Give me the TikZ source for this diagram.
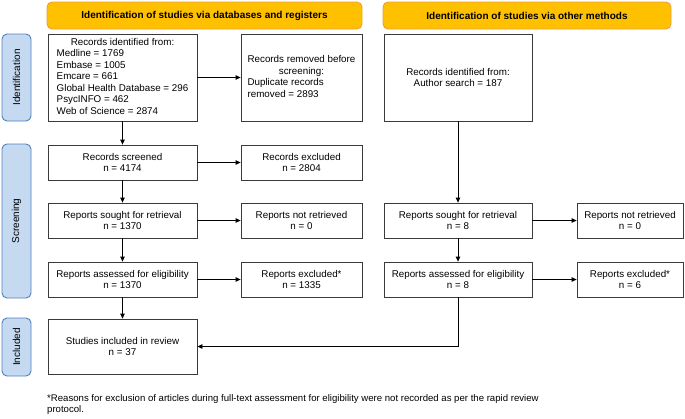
\documentclass[tikz,border=0pt]{standalone}
\usepackage{fontspec}
\setmainfont{Liberation Sans}
\usetikzlibrary{arrows.meta,positioning}
\definecolor{hdrfill}{HTML}{FFC000}
\definecolor{hdrline}{HTML}{E8A33A}
\definecolor{sidefill}{HTML}{C5D9F1}
\definecolor{sideline}{HTML}{4F81BD}
\definecolor{boxline}{HTML}{3A3A3A}
\tikzset{
  basefont/.style={font=\fontsize{9.8}{11.5}\selectfont},
  hdr/.style={draw=hdrline, fill=hdrfill, line width=0.9pt, rounded corners=5pt,
    minimum height=27pt, inner sep=0pt, font=\fontsize{10}{11.5}\selectfont\bfseries},
  side/.style={draw=sideline, fill=sidefill, line width=0.9pt, rounded corners=5pt,
    minimum height=29pt, inner sep=0pt, rotate=90, font=\fontsize{10}{11.5}\selectfont},
  box/.style={draw=boxline, fill=white, line width=0.8pt, inner sep=0pt,
    align=center, basefont},
  arr/.style={draw=black, line width=0.8pt, -{Triangle[length=5pt,width=4.5pt]}}
}
\begin{document}
\begin{tikzpicture}[x=1pt,y=-1pt]
\useasboundingbox (0,0) rectangle (685,418);
% headers
\node[hdr, minimum width=315pt] (hdrL) at (204.5,15.5) {Identification of studies via databases and registers};
\node[hdr, minimum width=288pt] (hdrR) at (527,15.5) {Identification of studies via other methods};
% side labels
\node[side, minimum width=87pt] (sideI) at (16.5,77.5) {Identification};
\node[side, minimum width=154pt] (sideS) at (16.5,221) {Screening};
\node[side, minimum width=58pt] (sideN) at (16.5,347) {Included};
% left column
\node[box, minimum width=149pt, minimum height=87pt] (b1) at (122.5,77.5)
 {\begin{tabular}{@{}l@{}}\multicolumn{1}{@{}c@{}}{Records identified from:}\\Medline = 1769\\Embase = 1005\\Emcare = 661\\Global Health Database = 296\\PsycINFO = 462\\Web of Science = 2874\end{tabular}};
\node[box, minimum width=121pt, minimum height=87pt] (b2) at (301.5,77.5)
 {\begin{tabular}{@{}l@{}}\multicolumn{1}{@{}c@{}}{Records removed before}\\\multicolumn{1}{@{}c@{}}{screening:}\\Duplicate records\\removed = 2893\end{tabular}};
\node[box, minimum width=149pt, minimum height=35pt] (scr) at (122.5,162.5) {Records screened\\n = 4174};
\node[box, minimum width=121pt, minimum height=35pt] (exc) at (301.5,162.5) {Records excluded\\n = 2804};
\node[box, minimum width=149pt, minimum height=35pt] (sou) at (122.5,220.5) {Reports sought for retrieval\\n = 1370};
\node[box, minimum width=121pt, minimum height=35pt] (nre) at (301.5,220.5) {Reports not retrieved\\n = 0};
\node[box, minimum width=149pt, minimum height=35pt] (ass) at (122.5,279.5) {Reports assessed for eligibility\\n = 1370};
\node[box, minimum width=121pt, minimum height=35pt] (rex) at (301.5,279.5) {Reports excluded*\\n = 1335};
\node[box, minimum width=149pt, minimum height=55pt] (inc) at (122.5,346.5) {Studies included in review\\n = 37};
% right column
\node[box, minimum width=148pt, minimum height=87pt] (r1) at (458,77.5) {Records identified from:\\Author search = 187};
\node[box, minimum width=148pt, minimum height=35pt] (rsou) at (458,220.5) {Reports sought for retrieval\\n = 8};
\node[box, minimum width=106pt, minimum height=35pt] (rnre) at (630,220.5) {Reports not retrieved\\n = 0};
\node[box, minimum width=148pt, minimum height=35pt] (rass) at (458,279.5) {Reports assessed for eligibility\\n = 8};
\node[box, minimum width=106pt, minimum height=35pt] (rrex) at (630,279.5) {Reports excluded*\\n = 6};
% footnote
\node[font=\fontsize{9.6}{11.5}\selectfont, anchor=north west, align=left, inner sep=0pt] (note) at (47,394)
 {*Reasons for exclusion of articles during full-text assessment for eligibility were not recorded as per the rapid review\\protocol.};
% connectors
\draw[arr] (b1) -- (b2);
\draw[arr] (b1) -- (scr);
\draw[arr] (scr) -- (exc);
\draw[arr] (scr) -- (sou);
\draw[arr] (sou) -- (nre);
\draw[arr] (sou) -- (ass);
\draw[arr] (ass) -- (rex);
\draw[arr] (ass) -- (inc);
\draw[arr] (r1) -- (rsou);
\draw[arr] (rsou) -- (rnre);
\draw[arr] (rsou) -- (rass);
\draw[arr] (rass) -- (rrex);
\draw[arr] (rass.south) |- (inc.east);
\end{tikzpicture}
\end{document}
